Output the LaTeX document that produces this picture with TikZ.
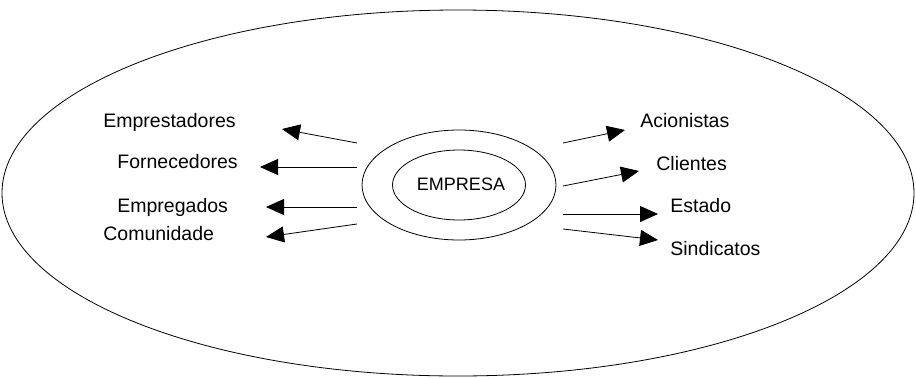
\documentclass[tikz,border=0pt]{standalone}
\usepackage{fontspec}
\setmainfont{Liberation Sans}
\usetikzlibrary{arrows.meta,shapes.geometric}

\begin{document}
\begin{tikzpicture}[x=1pt,y=-1pt,line width=0.8pt,
  rel/.style={-{Triangle[length=18pt,width=16pt]}},
  lbl/.style={anchor=base west,inner sep=0pt,font=\fontsize{19.5}{22}\selectfont}]
  \useasboundingbox (0,0) rectangle (916,378);
  % Environment of the company
  \draw (458,193) ellipse [x radius=456pt, y radius=183pt];
  % Company and its ring
  \node[ellipse,draw,minimum width=133pt,minimum height=70pt,inner sep=0pt] (empresa) at (459,185) {};
  \node[anchor=base,inner sep=0pt,font=\fontsize{18}{20}\selectfont] (nome) at (461,190) {EMPRESA};
  \draw (empresa.center) ellipse [x radius=97pt, y radius=55pt];
  % Stakeholders on the left
  \node[lbl] (emprestadores) at (103,127) {Emprestadores};
  \node[lbl] (fornecedores) at (117,168) {Fornecedores};
  \node[lbl] (empregados) at (117,212) {Empregados};
  \node[lbl] (comunidade) at (103,240) {Comunidade};
  % Stakeholders on the right
  \node[lbl] (acionistas) at (640,127) {Acionistas};
  \node[lbl] (clientes) at (656,170) {Clientes};
  \node[lbl] (estado) at (670,212) {Estado};
  \node[lbl] (sindicatos) at (670,255) {Sindicatos};
  % Arrow ends
  \coordinate (l1) at (357,143); \coordinate (t1) at (282,129);
  \coordinate (l2) at (357,167); \coordinate (t2) at (260,167);
  \coordinate (l3) at (357,207); \coordinate (t3) at (266,207);
  \coordinate (l4) at (357,224); \coordinate (t4) at (266,237);
  \coordinate (r1) at (563,143); \coordinate (s1) at (625,130);
  \coordinate (r2) at (563,186); \coordinate (s2) at (639,171);
  \coordinate (r3) at (563,214); \coordinate (s3) at (658,214);
  \coordinate (r4) at (563,229); \coordinate (s4) at (658,240);
  % Arrows
  \foreach \a/\b in {l1/t1,l2/t2,l3/t3,l4/t4,r1/s1,r2/s2,r3/s3,r4/s4}
    \draw[rel] (\a) -- (\b);
\end{tikzpicture}
\end{document}
